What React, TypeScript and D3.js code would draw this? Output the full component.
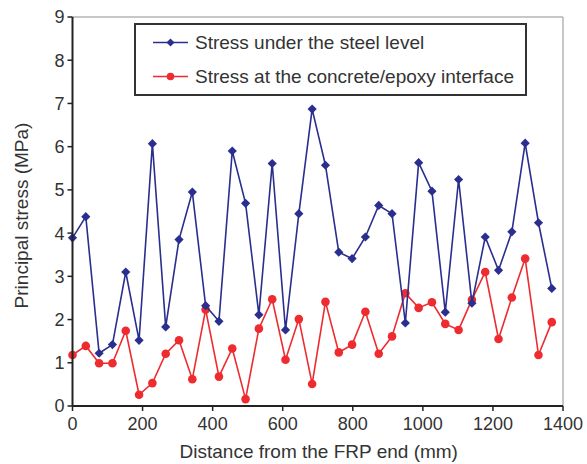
import React from "react";
import * as d3 from "d3";

// distance from the FRP end (mm)
const distances = [
  0, 38, 76, 114, 152, 190, 228, 266, 304, 342, 380, 418, 456, 494, 532, 570, 608, 646, 684,
  722, 760, 798, 836, 874, 912, 950, 988, 1026, 1064, 1102, 1140, 1178, 1216, 1254, 1292, 1330, 1368,
];

// principal stress under the steel level (MPa)
const steelStress = [
  3.89, 4.38, 1.22, 1.42, 3.1, 1.52, 6.07, 1.83, 3.85, 4.95, 2.32, 1.96, 5.9, 4.69, 2.11, 5.61,
  1.76, 4.45, 6.87, 5.57, 3.56, 3.41, 3.91, 4.64, 4.45, 1.92, 5.63, 4.97, 2.17, 5.24, 2.38, 3.91,
  3.14, 4.03, 6.08, 4.24, 2.72,
];

// principal stress at the concrete/epoxy interface (MPa)
const interfaceStress = [
  1.18, 1.39, 0.99, 0.99, 1.74, 0.26, 0.53, 1.21, 1.52, 0.62, 2.23, 0.68, 1.33, 0.16, 1.79, 2.47,
  1.07, 2.01, 0.51, 2.41, 1.24, 1.42, 2.18, 1.21, 1.61, 2.61, 2.27, 2.4, 1.9, 1.76, 2.46, 3.1,
  1.55, 2.51, 3.41, 1.18, 1.94,
];

const xTicks = [0, 200, 400, 600, 800, 1000, 1200, 1400];
const yTicks = [0, 1, 2, 3, 4, 5, 6, 7, 8, 9];
const legendLabels = ["Stress under the steel level", "Stress at the concrete/epoxy interface"];

const BLUE = "#2a2e8e";
const RED = "#ee2b2f";
const FONT = "'Liberation Sans', Arial, sans-serif";

export default function App() {
  const width = 587;
  const height = 464;
  const margin = { top: 17, right: 24, bottom: 58, left: 72.5 };

  const x = d3.scaleLinear().domain([0, 1400]).range([margin.left, width - margin.right]);
  const y = d3.scaleLinear().domain([0, 9]).range([height - margin.bottom, margin.top]);

  const seriesLine = d3
    .line<number>()
    .x((_, i) => x(distances[i]))
    .y((d) => y(d));

  const diamond = (cx: number, cy: number, r: number) =>
    `M${cx},${cy - r}L${cx + r},${cy}L${cx},${cy + r}L${cx - r},${cy}Z`;

  const x0 = x(0);
  const x1 = x(1400);
  const y0 = y(0);
  const y1 = y(9);

  const legend = { left: 135, top: 24, right: 526, bottom: 95 };
  const rowY = [42.5, 76.5];

  return (
    <svg
      width={width}
      height={height}
      style={{ position: "absolute", left: 0, top: 0, background: "#fff" }}
      fontFamily={FONT}
    >
      {/* frame */}
      <line x1={x0} y1={y1} x2={x1} y2={y1} stroke="#b5b5b5" strokeWidth={1.5} />
      <line x1={x1} y1={y1} x2={x1} y2={y0} stroke="#b5b5b5" strokeWidth={1.5} />

      {/* series */}
      <path d={seriesLine(interfaceStress) ?? ""} fill="none" stroke={RED} strokeWidth={1.6} />
      {interfaceStress.map((v, i) => (
        <circle key={`r${i}`} cx={x(distances[i])} cy={y(v)} r={4.3} fill={RED} />
      ))}
      <path d={seriesLine(steelStress) ?? ""} fill="none" stroke={BLUE} strokeWidth={1.6} />
      {steelStress.map((v, i) => (
        <path key={`b${i}`} d={diamond(x(distances[i]), y(v), 4.6)} fill={BLUE} />
      ))}

      {/* axes */}
      <line x1={x0} y1={y0} x2={x1} y2={y0} stroke="#222" strokeWidth={2} />
      <line x1={x0} y1={y0} x2={x0} y2={y1} stroke="#222" strokeWidth={2} />
      {yTicks.map((t) => (
        <g key={`yt${t}`}>
          <line x1={x0 - 5} x2={x0} y1={y(t)} y2={y(t)} stroke="#222" strokeWidth={1.5} />
          <text x={x0 - 8} y={y(t)} dy="0.36em" textAnchor="end" fontSize={18} fill="#333">
            {t}
          </text>
        </g>
      ))}
      {xTicks.map((t) => (
        <g key={`xt${t}`}>
          <line x1={x(t)} x2={x(t)} y1={y0} y2={y0 + 5} stroke="#222" strokeWidth={1.5} />
          <text x={x(t)} y={y0 + 24} textAnchor="middle" fontSize={18} fill="#333">
            {t}
          </text>
        </g>
      ))}

      {/* axis titles */}
      <text x={(x0 + x1) / 2 + 1} y={458} textAnchor="middle" fontSize={19} fill="#333">
        Distance from the FRP end (mm)
      </text>
      <text
        transform={`translate(28,${(y0 + y1) / 2 + 4}) rotate(-90)`}
        textAnchor="middle"
        fontSize={19}
        fill="#333"
      >
        Principal stress (MPa)
      </text>

      {/* legend */}
      <rect
        x={legend.left}
        y={legend.top}
        width={legend.right - legend.left}
        height={legend.bottom - legend.top}
        fill="#fff"
        stroke="#333"
        strokeWidth={2}
      />
      {legendLabels.map((label, i) => (
        <g key={label}>
          <line x1={153} x2={188} y1={rowY[i]} y2={rowY[i]} stroke={i === 0 ? BLUE : RED} strokeWidth={1.6} />
          {i === 0 ? (
            <path d={diamond(170.5, rowY[i], 4)} fill={BLUE} />
          ) : (
            <circle cx={170.5} cy={rowY[i]} r={3.8} fill={RED} />
          )}
          <text x={195} y={rowY[i]} dy="0.36em" fontSize={19} fill="#333">
            {label}
          </text>
        </g>
      ))}
    </svg>
  );
}
